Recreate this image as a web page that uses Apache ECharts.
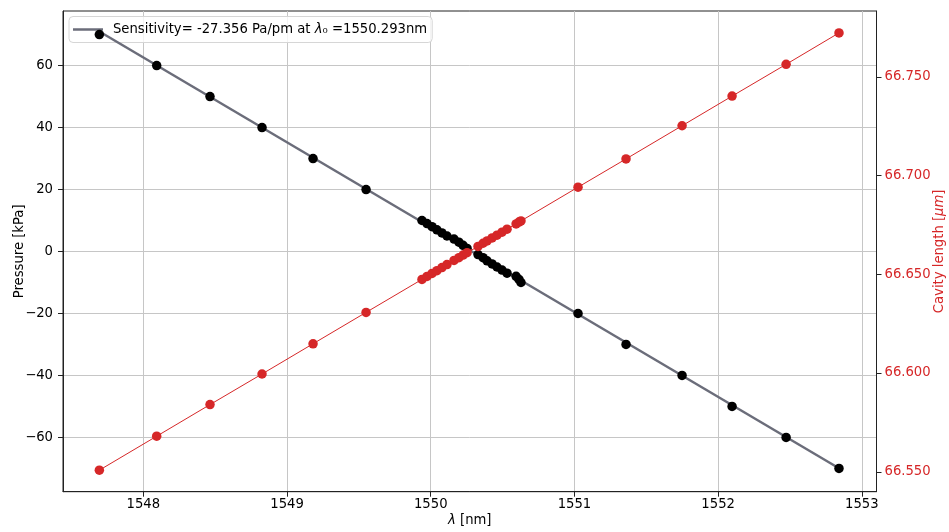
<!DOCTYPE html>
<html><head><meta charset="utf-8">
<script src="https://cdn.jsdelivr.net/npm/echarts@6/dist/echarts.min.js"></script>
<style>html,body{margin:0;padding:0;background:#fff}#c{width:949px;height:532px}</style>
</head><body><div id="c"></div>
<script>
// Wavelength [nm]
const wavelength = [1547.694, 1548.093, 1548.464, 1548.826, 1549.181, 1549.550,
  1549.939, 1549.974, 1550.009, 1550.043, 1550.078, 1550.113, 1550.162, 1550.196, 1550.225, 1550.253,
  1550.329, 1550.364, 1550.392, 1550.427, 1550.461, 1550.496, 1550.531, 1550.594, 1550.614, 1550.628,
  1551.025, 1551.359, 1551.749, 1552.097, 1552.473, 1552.841];
// Pressure [kPa]
const pressure = [70, 60, 50, 40, 30, 20,
  10, 9, 8, 7, 6, 5, 4, 3, 2, 1,
  -1, -2, -3, -4, -5, -6, -7, -8, -9, -10,
  -20, -30, -40, -50, -60, -70];
// Cavity length [um]
const cavityLength = [66.5508, 66.5680, 66.5840, 66.5995, 66.6148, 66.6307,
  66.6474, 66.6489, 66.6504, 66.6518, 66.6534, 66.6549, 66.6570, 66.6584, 66.6597, 66.6609,
  66.6641, 66.6657, 66.6669, 66.6684, 66.6698, 66.6713, 66.6728, 66.6755, 66.6764, 66.6770,
  66.6941, 66.7084, 66.7252, 66.7402, 66.7563, 66.7722];
const xTicks = [1548, 1549, 1550, 1551, 1552, 1553];
const pTicks = [-60, -40, -20, 0, 20, 40, 60];
const lTicks = [66.55, 66.60, 66.65, 66.70, 66.75];
const legendText = 'Sensitivity= -27.356 Pa/pm at {i|λ}₀ =1550.293nm';

// least-squares fit of pressure vs wavelength
const n = wavelength.length;
const mx = wavelength.reduce((a, b) => a + b, 0) / n;
const my = pressure.reduce((a, b) => a + b, 0) / n;
let sxy = 0, sxx = 0;
for (let i = 0; i < n; i++) { sxy += (wavelength[i] - mx) * (pressure[i] - my); sxx += (wavelength[i] - mx) ** 2; }
const slope = sxy / sxx, intercept = my - slope * mx;
const xmin = Math.min(...wavelength), xmax = Math.max(...wavelength);
const fitData = [[xmin, intercept + slope * xmin], [xmax, intercept + slope * xmax]];

const FONT = 'DejaVu Sans';
const FS = 13.2;
const minus = v => (v < 0 ? '\u2212' + Math.abs(v) : String(v));
const chart = echarts.init(document.getElementById('c'), null, { renderer: 'canvas' });
chart.setOption({
  animation: false,
  backgroundColor: '#fff',
  textStyle: { fontFamily: FONT },
  grid: { left: 63, right: 72.5, top: 11, bottom: 40.3, show: true, borderColor: '#222', borderWidth: 1,
    containLabel: false, outerBoundsMode: 'none' },
  legend: {
    data: [{ name: 'fit', icon: 'rect' }], left: 69, top: 16.5, orient: 'vertical', z: 1,
    padding: [6, 5, 6, 4], itemWidth: 30, itemHeight: 2.5,
    itemStyle: { color: '#6b6d7a' },
    backgroundColor: 'rgba(255,255,255,0.8)', borderColor: '#d6d6d6', borderWidth: 1, borderRadius: 4,
    formatter: () => legendText,
    textStyle: { fontFamily: FONT, fontSize: FS, color: '#000', padding: [0, 0, 0, 5], lineHeight: 14,
      rich: { i: { fontFamily: FONT, fontSize: FS, fontStyle: 'italic', color: '#000' } } }
  },
  xAxis: {
    type: 'value', min: 1547.441, max: 1553.102,
    name: '{i|λ} [nm]', nameLocation: 'middle', nameGap: 22, nameMoveOverlap: false,
    nameTextStyle: { fontFamily: FONT, fontSize: FS, color: '#000',
      rich: { i: { fontFamily: FONT, fontSize: FS, fontStyle: 'italic', color: '#000' } } },
    axisLine: { show: true, onZero: false, lineStyle: { color: '#222', width: 1 } },
    axisTick: { show: true, inside: false, length: 5, customValues: xTicks, lineStyle: { color: '#222' } },
    axisLabel: { customValues: xTicks, margin: 6, fontFamily: FONT, fontSize: FS, color: '#000', formatter: v => String(v) },
    splitLine: { show: true, lineStyle: { color: '#c6c6c6', width: 1 } }
  },
  yAxis: [{
    type: 'value', min: -77.5, max: 77.6, position: 'left',
    name: 'Pressure [kPa]', nameLocation: 'middle', nameGap: 37, nameMoveOverlap: false,
    nameTextStyle: { fontFamily: FONT, fontSize: FS, color: '#000' },
    axisLine: { show: true, onZero: false, lineStyle: { color: '#222', width: 1 } },
    axisTick: { show: true, inside: false, length: 5, customValues: pTicks, lineStyle: { color: '#222' } },
    axisLabel: { customValues: pTicks, margin: 10, fontFamily: FONT, fontSize: FS, color: '#000', formatter: minus },
    splitLine: { show: true, lineStyle: { color: '#c6c6c6', width: 1 } }
  }, {
    type: 'value', min: 66.5399, max: 66.7833, position: 'right',
    name: 'Cavity length [{i|μm}]', nameLocation: 'middle', nameGap: 57, nameMoveOverlap: false,
    nameTextStyle: { fontFamily: FONT, fontSize: FS, color: '#d62728',
      rich: { i: { fontFamily: FONT, fontSize: FS, fontStyle: 'italic', color: '#d62728' } } },
    axisLine: { show: true, onZero: false, lineStyle: { color: '#222', width: 1 } },
    axisTick: { show: true, inside: false, length: 5, customValues: lTicks, lineStyle: { color: '#222' } },
    axisLabel: { customValues: lTicks, margin: 8, fontFamily: FONT, fontSize: FS, color: '#d62728', formatter: v => v.toFixed(3) },
    splitLine: { show: false }
  }],
  series: [{
    name: 'fit', type: 'line', xAxisIndex: 0, yAxisIndex: 0, data: fitData,
    symbol: 'none', lineStyle: { color: '#6b6d7a', width: 2.5 }, itemStyle: { color: '#6b6d7a' }, z: 2
  }, {
    name: 'pressure', type: 'scatter', xAxisIndex: 0, yAxisIndex: 0,
    data: wavelength.map((w, i) => [w, pressure[i]]),
    symbol: 'circle', symbolSize: 9.5, itemStyle: { color: '#000', opacity: 1 }, z: 3
  }, {
    name: 'cavity', type: 'line', xAxisIndex: 0, yAxisIndex: 1,
    data: wavelength.map((w, i) => [w, cavityLength[i]]),
    symbol: 'circle', symbolSize: 9.5, showSymbol: true,
    lineStyle: { color: '#d62728', width: 1 }, itemStyle: { color: '#d62728', borderWidth: 0 }, z: 4
  }]
});
</script></body></html>
